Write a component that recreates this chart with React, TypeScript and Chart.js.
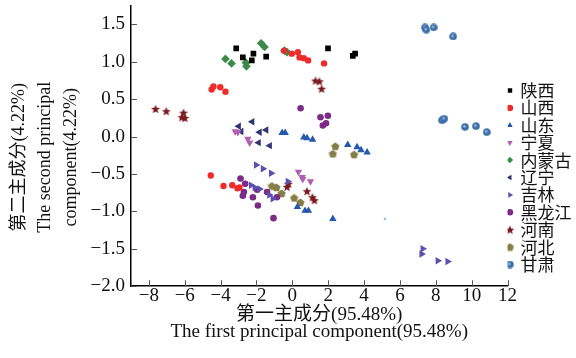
import React, { useEffect, useRef } from 'react';
import { Chart, registerables } from 'chart.js';

Chart.register(...registerables);

// ---- data ----
const categories = ['陕西', '山西', '山东', '宁夏', '内蒙古', '辽宁', '吉林', '黑龙江', '河南', '河北', '甘肃'];

const shaanxi = [[-3.13, 1.18], [-2.76, 1.06], [-2.17, 1.11], [-2.26, 1.02], [-1.46, 1.07], [1.99, 1.18], [3.37, 1.08], [3.5, 1.11]];
const shanxi = [[-0.46, 1.15], [-0.03, 1.11], [0.31, 1.13], [0.4, 1.06], [0.64, 1.05], [0.88, 1.02], [1.77, 0.98], [-4.5, 0.63], [-4.4, 0.67], [-4.02, 0.66], [-3.73, 0.6], [-4.55, -0.52], [-3.84, -0.66], [-3.35, -0.65], [-3.06, -0.69], [-2.95, -0.68]];
const shandong = [[-0.57, 0.05], [-0.4, 0.05], [0.64, -0.01], [0.82, -0.02], [1.13, -0.04], [3.09, -0.11], [3.61, -0.14], [3.83, -0.18], [4.17, -0.21], [0.28, -0.94], [0.71, -0.99], [0.9, -0.99], [2.26, -1.1]];
const ningxia = [[-3.19, 0.07], [-3.04, 0.06], [-2.48, -0.03], [-2.38, -0.08], [0.34, -0.47], [0.55, -0.54], [0.58, -0.57], [1.01, -0.6]];
const neimenggu = [[-1.74, 1.25], [-1.55, 1.2], [-3.73, 1.04], [-3.39, 0.98], [-2.59, 0.99], [-2.56, 0.94], [-0.44, 1.15], [-0.29, 1.13]];
const liaoning = [[-2.99, 0.14], [-2.85, 0.07], [-2.24, 0.2], [-1.83, 0.06], [-1.46, 0.09], [-1.88, -0.08], [-1.26, -0.12]];
const jilin = [[-2.02, -0.38], [-1.64, -0.43], [-1.18, -0.49], [-2.3, -0.65], [-2.1, -0.68], [-1.83, -0.7], [-1.28, -0.78], [-1.09, -0.83], [-0.25, -0.6], [7.27, -1.5], [7.21, -1.57], [8.11, -1.66], [8.66, -1.67]];
const heilongjiang = [[0.46, 0.38], [1.57, 0.26], [1.98, 0.28], [1.7, 0.15], [1.88, 0.18], [-2.89, -0.56], [-2.63, -0.63], [-2.7, -0.74], [-2.76, -0.79], [-2.2, -0.81], [-1.96, -0.71], [-1.92, -0.92], [-1.41, -0.74], [-0.86, -0.81], [-1.05, -1.09]];
const henan = [[-7.63, 0.37], [-7.03, 0.34], [-6.07, 0.32], [-6.16, 0.26], [-6.0, 0.25], [1.29, 0.75], [1.51, 0.74], [1.63, 0.64], [-0.22, -0.63], [-0.3, -0.67], [0.82, -0.73], [1.12, -0.81], [1.23, -0.85]];
const hebei = [[2.4, -0.13], [2.26, -0.23], [3.44, -0.24], [-1.14, -0.66], [-0.89, -0.68], [-0.6, -0.76], [0.1, -0.82], [0.45, -0.88]];
const gansu = [[7.4, 1.46], [7.47, 1.43], [7.88, 1.46], [8.97, 1.34], [8.35, 0.22], [8.47, 0.24], [9.63, 0.13], [10.24, 0.14], [10.84, 0.06]];
const strayPoint = [[5.17, -1.1]];

const seriesValues = [shaanxi, shanxi, shandong, ningxia, neimenggu, liaoning, jilin, heilongjiang, henan, hebei, gansu];

const xTickValues = [-8, -6, -4, -2, 0, 2, 4, 6, 8, 10, 12];
const yTickValues = [-2.0, -1.5, -1.0, -0.5, 0.0, 0.5, 1.0, 1.5];

const xTitle = ['第一主成分(95.48%)', 'The first principal component(95.48%)'];
const yTitle = ['第二主成分(4.22%)     ', 'The second principal     ', 'component(4.22%)     '];

// ---- marker images ----
function makeStar(color: string, size: number) {
  const c = document.createElement('canvas');
  c.width = size; c.height = size;
  const g = c.getContext('2d')!;
  const cx = size / 2, cy = size / 2 + 0.4;
  const ro = size / 2 - 0.3, ri = ro * 0.45;
  g.beginPath();
  for (let i = 0; i < 10; i++) {
    const r = i % 2 === 0 ? ro : ri;
    const a = -Math.PI / 2 + (i * Math.PI) / 5;
    const px = cx + r * Math.cos(a), py = cy + r * Math.sin(a);
    if (i === 0) g.moveTo(px, py); else g.lineTo(px, py);
  }
  g.closePath();
  g.fillStyle = color;
  g.fill();
  return c;
}
function makePentagon(color: string, size: number) {
  const c = document.createElement('canvas');
  c.width = size; c.height = size;
  const g = c.getContext('2d')!;
  const cx = size / 2, cy = size / 2 + 0.3, r = size / 2 - 0.2;
  g.beginPath();
  for (let i = 0; i < 5; i++) {
    const a = -Math.PI / 2 + (i * 2 * Math.PI) / 5;
    const px = cx + r * Math.cos(a), py = cy + r * Math.sin(a);
    if (i === 0) g.moveTo(px, py); else g.lineTo(px, py);
  }
  g.closePath();
  g.fillStyle = color;
  g.fill();
  return c;
}
function makeSphere(color: string, size: number) {
  const c = document.createElement('canvas');
  c.width = size; c.height = size;
  const g = c.getContext('2d')!;
  const r = size / 2;
  const grad = g.createRadialGradient(r - 0.8, r - 0.8, 0.2, r, r, r);
  grad.addColorStop(0, '#b8d0ea');
  grad.addColorStop(0.45, color);
  grad.addColorStop(1, color);
  g.beginPath();
  g.arc(r, r, r - 0.2, 0, Math.PI * 2);
  g.fillStyle = grad;
  g.fill();
  return c;
}

const inwardTicks = {
  id: 'inwardTicks',
  afterDraw(chart: any) {
    const { ctx, chartArea } = chart;
    const xs = chart.scales.x, ys = chart.scales.y;
    ctx.save();
    ctx.strokeStyle = '#555';
    ctx.lineWidth = 1;
    xs.ticks.forEach((t: any) => {
      const px = Math.round(xs.getPixelForValue(t.value)) + 0.5;
      ctx.beginPath();
      ctx.moveTo(px, chartArea.bottom);
      ctx.lineTo(px, chartArea.bottom - 6);
      ctx.stroke();
    });
    ys.ticks.forEach((t: any) => {
      const py = Math.round(ys.getPixelForValue(t.value)) + 0.5;
      ctx.beginPath();
      ctx.moveTo(chartArea.left, py);
      ctx.lineTo(chartArea.left + 6, py);
      ctx.stroke();
    });
    ctx.restore();
  },
};

const fmtNum = (v: number, d: number) => (v < 0 ? '\u2212' : '') + Math.abs(v).toFixed(d);

export default function App() {
  const ref = useRef<HTMLCanvasElement | null>(null);
  useEffect(() => {
    if (!ref.current) return;
    const star = makeStar('#7a1a1f', 10);
    const penta = makePentagon('#857f47', 9);
    const sphere = makeSphere('#3b6ea9', 8);
    const styles: any[] = [
      { pointStyle: 'rect', r: 4, rot: 0, color: '#000000' },
      { pointStyle: 'circle', r: 3.2, rot: 0, color: '#ee2b2b' },
      { pointStyle: 'triangle', r: 4.3, rot: 0, color: '#2458ae' },
      { pointStyle: 'triangle', r: 4.3, rot: 180, color: '#b05eb2' },
      { pointStyle: 'rectRot', r: 4.3, rot: 0, color: '#3a8a48' },
      { pointStyle: 'triangle', r: 4.3, rot: -90, color: '#2f3572' },
      { pointStyle: 'triangle', r: 4.3, rot: 90, color: '#5b50b2' },
      { pointStyle: 'circle', r: 3.3, rot: 0, color: '#7b2a86' },
      { pointStyle: star, r: 4, rot: 0, color: '#7a1a1f' },
      { pointStyle: penta, r: 4, rot: 0, color: '#857f47' },
      { pointStyle: sphere, r: 4, rot: 0, color: '#3b6ea9' },
    ];
    const datasets: any[] = categories.map((name, i) => ({
      label: name,
      data: seriesValues[i].map(([x, y]) => ({ x, y })),
      pointStyle: styles[i].pointStyle,
      pointRadius: styles[i].r,
      pointRotation: styles[i].rot,
      backgroundColor: styles[i].color,
      borderColor: styles[i].color,
      borderWidth: 0,
    }));
    datasets.push({
      label: '',
      data: strayPoint.map(([x, y]) => ({ x, y })),
      pointStyle: 'circle',
      pointRadius: 1.3,
      backgroundColor: '#9fc2e4',
      borderColor: '#9fc2e4',
      borderWidth: 0,
    });
    const serif = "'Liberation Serif', 'Noto Sans CJK SC', serif";
    const chart = new Chart(ref.current, {
      type: 'scatter',
      data: { datasets },
      options: {
        responsive: false,
        animation: false,
        devicePixelRatio: 1,
        layout: { padding: { left: 0, right: -5.4, top: 5.8, bottom: 8.8 } },
        plugins: {
          tooltip: { enabled: false },
          legend: {
            position: 'right',
            align: 'center',
            labels: {
              usePointStyle: true,
              boxWidth: 4,
              boxHeight: 4.6,
              padding: 0.4,
              color: '#111',
              font: { family: "'Noto Sans CJK SC', serif", size: 17 },
              filter: (item: any) => item.text !== '',
            },
          },
        },
        scales: {
          x: {
            type: 'linear',
            min: -9,
            max: 12,
            afterBuildTicks: (s: any) => { s.ticks = xTickValues.map((v) => ({ value: v })); },
            ticks: {
              color: '#111',
              padding: 0,
              maxRotation: 0,
              autoSkip: false,
              font: { family: serif, size: 19, lineHeight: 1 },
              callback: (v: any) => fmtNum(Number(v), 0),
            },
            grid: { display: false, drawTicks: false },
            border: { display: true, color: '#000', width: 1.5 },
            title: {
              display: true,
              text: xTitle,
              color: '#111',
              font: { family: serif, size: 19, lineHeight: 17 / 19 },
              padding: { top: 1, bottom: 9 },
            },
          },
          y: {
            type: 'linear',
            min: -2,
            max: 1.75,
            afterBuildTicks: (s: any) => { s.ticks = yTickValues.map((v) => ({ value: v })); },
            afterFit: (s: any) => { s.paddingTop = 0; },
            ticks: {
              color: '#111',
              padding: 6,
              autoSkip: false,
              font: { family: serif, size: 19, lineHeight: 1 },
              callback: (v: any) => fmtNum(Number(v), 1),
            },
            grid: { display: false, drawTicks: false },
            border: { display: true, color: '#000', width: 1.5 },
            title: {
              display: true,
              text: yTitle,
              color: '#111',
              font: { family: serif, size: 18, lineHeight: 26 / 18 },
              padding: { top: 6, bottom: 0.5 },
            },
          },
        },
      },
      plugins: [inwardTicks],
    } as any);
    return () => chart.destroy();
  }, []);
  return (
    <div style={{ position: 'absolute', left: 0, top: 0, width: 576, height: 358, background: '#fff' }}>
      <canvas ref={ref} width={576} height={358} style={{ display: 'block' }} />
    </div>
  );
}
